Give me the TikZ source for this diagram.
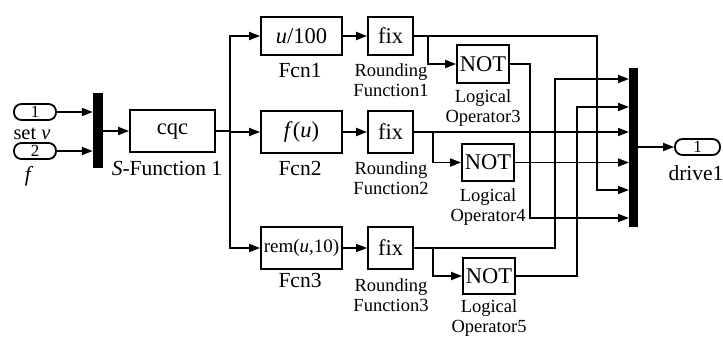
\documentclass[tikz,border=0pt]{standalone}
\usepackage{fontspec}
\setmainfont{Liberation Serif}
\usetikzlibrary{arrows.meta}
\begin{document}
\tikzset{
 blk/.style={draw, line width=1.8pt, inner sep=0pt, font=\fontsize{22.5}{24}\selectfont},
 port/.style={draw, line width=1.8pt, rounded corners=7.5pt, minimum width=42pt, minimum height=16pt, inner sep=0pt, font=\fontsize{17}{17}\selectfont},
 lbl/.style={font=\fontsize{21.5}{22}\selectfont, inner sep=0pt},
 slbl/.style={font=\fontsize{18.5}{20}\selectfont, inner sep=0pt, align=center},
 wire/.style={line width=1.8pt},
 arr/.style={wire, -{Triangle[length=11pt,width=8pt]}},
 mux/.style={fill=black, inner sep=0pt}
}
\begin{tikzpicture}[x=1pt,y=-1pt]
\useasboundingbox (0,0) rectangle (723,337);
% inputs
\node[port] (in1) at (35,112) {1};
\node[port] (in2) at (35,151) {2};
\node[lbl, font=\fontsize{20.5}{21}\selectfont] (lset) at (32,134) {set \textit{v}};
\node[lbl] (lf) at (29,176) {\textit{f}};
\node[mux, minimum width=10pt, minimum height=75pt] (mux1) at (98,130.5) {};
\draw[arr] (in1.east) -- (mux1.west |- in1);
\draw[arr] (in2.east) -- (mux1.west |- in2);
\node[blk, minimum width=85pt, minimum height=42pt] (cqc) at (172.5,131) {cqc};
\node[lbl] (lsf) at (167,168) {\textit{S}-Function 1};
\draw[arr] (mux1.east |- cqc) -- (cqc.west);
% functions
\node[blk, minimum width=81pt, minimum height=38pt] (fcn1) at (301.5,36) {\textit{u}/100};
\node[blk, minimum width=81pt, minimum height=42pt] (fcn2) at (301.5,132) {\textit{f}(\textit{u})};
\node[blk, minimum width=81pt, minimum height=42pt, font=\fontsize{19}{20}\selectfont] (fcn3) at (301.5,248) {rem(\textit{u},10)};
\node[lbl] (lf1) at (300,71) {Fcn1};
\node[lbl] (lf2) at (300,168) {Fcn2};
\node[lbl] (lf3) at (300,280) {Fcn3};
\coordinate (trunk) at (230,131);
\draw[wire] (cqc.east) -- (trunk);
\draw[arr] (trunk) |- (fcn1.west);
\draw[arr] (trunk) |- (fcn3.west);
\draw[arr] (trunk) |- (fcn2.west);
% fix
\node[blk, minimum width=45pt, minimum height=38pt] (fix1) at (390.5,36) {fix};
\node[blk, minimum width=45pt, minimum height=42pt] (fix2) at (390.5,132) {fix};
\node[blk, minimum width=45pt, minimum height=42pt] (fix3) at (390.5,248) {fix};
\node[slbl] (lr1) at (391,80) {Rounding\\Function1};
\node[slbl] (lr2) at (391,178) {Rounding\\Function2};
\node[slbl] (lr3) at (391,295) {Rounding\\Function3};
\draw[arr] (fcn1) -- (fix1);
\draw[arr] (fcn2) -- (fix2);
\draw[arr] (fcn3) -- (fix3);
% NOT
\node[blk, minimum width=52pt, minimum height=38pt] (not3) at (483,64) {NOT};
\node[blk, minimum width=52pt, minimum height=37pt] (not4) at (488,162.5) {NOT};
\node[blk, minimum width=52pt, minimum height=36pt] (not5) at (489,276) {NOT};
\node[slbl] (ll3) at (483,108) {Logical\\Operator3};
\node[slbl] (ll4) at (488,207) {Logical\\Operator4};
\node[slbl] (ll5) at (489,318) {Logical\\Operator5};
% output mux
\node[mux, minimum width=9pt, minimum height=159pt] (mux2) at (633.5,147.5) {};
\coordinate (m1) at (629,79);
\coordinate (m2) at (629,107);
\coordinate (m3) at (629,132);
\coordinate (m4) at (629,162.5);
\coordinate (m5) at (629,190);
\coordinate (m6) at (629,218);
\coordinate (b1) at (428,36);
\coordinate (b2) at (433,132);
\coordinate (b3) at (433,248);
\draw[arr] (fix1.east) -- (597,36) |- (m5);
\draw[arr] (b1) |- (not3.west);
\draw[arr] (not3.east) -- (530,64) |- (m6);
\draw[arr] (fix2.east) -- (m3);
\draw[arr] (b2) |- (not4.west);
\draw[arr] (not4.east) -- (m4);
\draw[arr] (fix3.east) -- (555,248) |- (m1);
\draw[arr] (b3) |- (not5.west);
\draw[arr] (not5.east) -- (577,276) |- (m2);
% output
\node[port, minimum width=45pt] (out1) at (697.5,147) {1};
\node[lbl] (ldr) at (696,173) {drive1};
\draw[arr] (mux2.east |- out1) -- (out1.west);
\end{tikzpicture}
\end{document}
